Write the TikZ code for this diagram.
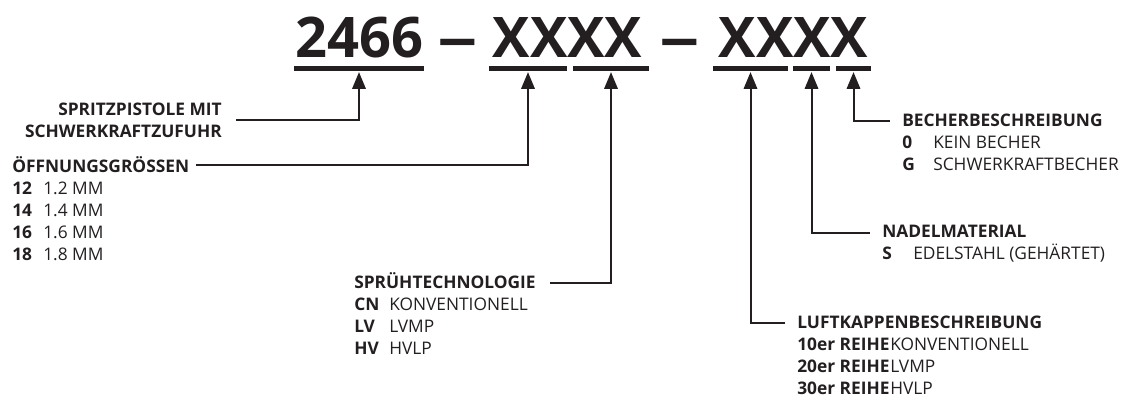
\documentclass[tikz,border=0pt]{standalone}
\usepackage{fontspec}
\usepackage{graphicx}
\setmainfont{Open Sans}
\usetikzlibrary{arrows.meta, calc}

\definecolor{ink}{HTML}{231F20}
% bold key, then its meaning
\newcommand{\code}[3][23.25pt]{\makebox[#1][l]{\textbf{#2}}#3}

\begin{document}
\begin{tikzpicture}[x=0.75pt, y=-0.75pt,
  codetext/.style={font=\fontsize{42}{42}\selectfont\bfseries, text=ink, inner sep=0, anchor=base},
  underbar/.style={fill=ink, inner sep=0, minimum height=3.75pt},
  keytext/.style={font=\fontsize{13}{16.5}\selectfont, text=ink, inner sep=0, anchor=base west},
  conn/.style={draw=ink, line width=1.5pt, -{Triangle[length=12.5pt,width=10pt]}, shorten >=1pt},
]
\useasboundingbox (0,0) rectangle (1140,401);

% order code
\node[codetext] (n2466) at (359,57) {2466};
\node[codetext] (dash1) at (458,57) {\scalebox{1.45}[1]{--}};
\node[codetext] (grp1) at (567.5,57) {XXXX};
\node[codetext] (dash2) at (680,57) {\scalebox{1.45}[1]{--}};
\node[codetext] (grp2) at (793.5,57) {XXXX};

% underlines
\node[underbar, minimum width=97.5pt] (b0) at (359,68) {};
\node[underbar, minimum width=58.5pt] (b1) at (528,68) {};
\node[underbar, minimum width=57pt] (b2) at (611,68) {};
\node[underbar, minimum width=56.25pt] (b3) at (750.5,68) {};
\node[underbar, minimum width=27.75pt] (b4) at (811.5,68) {};
\node[underbar, minimum width=26.25pt] (b5) at (853.5,68) {};

% left keys
\node[keytext, anchor=base east] (gun) at (222,115) {\begin{tabular}[t]{@{}r@{}}
  \textbf{SPRITZPISTOLE MIT}\\
  \textbf{SCHWERKRAFTZUFUHR}
\end{tabular}};
\node[keytext] (sizes) at (12,172) {\begin{tabular}[t]{@{}l@{}}
  \textbf{ÖFFNUNGSGRÖSSEN}\\
  \code{12}{1.2 MM}\\
  \code{14}{1.4 MM}\\
  \code{16}{1.6 MM}\\
  \code{18}{1.8 MM}
\end{tabular}};
\node[keytext] (spray) at (354,288) {\begin{tabular}[t]{@{}l@{}}
  \textbf{SPRÜHTECHNOLOGIE}\\
  \code[26.25pt]{CN}{KONVENTIONELL}\\
  \code[26.25pt]{LV}{LVMP}\\
  \code[26.25pt]{HV}{HVLP}
\end{tabular}};

% right keys
\node[keytext] (aircap) at (797,328) {\begin{tabular}[t]{@{}l@{}}
  \textbf{LUFTKAPPENBESCHREIBUNG}\\
  \code[69.75pt]{10er REIHE}{KONVENTIONELL}\\
  \code[69.75pt]{20er REIHE}{LVMP}\\
  \code[69.75pt]{30er REIHE}{HVLP}
\end{tabular}};
\node[keytext] (needle) at (882,237) {\begin{tabular}[t]{@{}l@{}}
  \textbf{NADELMATERIAL}\\
  \code{S}{EDELSTAHL (GEHÄRTET)}
\end{tabular}};
\node[keytext] (cup) at (902,126) {\begin{tabular}[t]{@{}l@{}}
  \textbf{BECHERBESCHREIBUNG}\\
  \code{0}{KEIN BECHER}\\
  \code{G}{SCHWERKRAFTBECHER}
\end{tabular}};

% connectors
\draw[conn] ($(gun.base east)+(14,5)$) -| (b0.south);
\draw[conn] ($(sizes.base east)+(7,-7)$) -| (b1.south);
\draw[conn] ($(spray.base east)+(14,-5)$) -| (b2.south);
\draw[conn] ($(aircap.base west)+(-12,-5)$) -| (b3.south);
\draw[conn] ($(needle.base west)+(-12,-4)$) -| (b4.south);
\draw[conn] ($(cup.base west)+(-12,-5)$) -| (b5.south);
\end{tikzpicture}
\end{document}
